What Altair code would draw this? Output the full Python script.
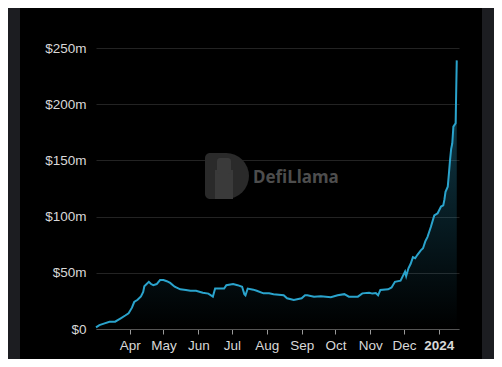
import altair as alt
import pandas as pd

# TVL series (USD millions)
dates = [
    "2023-03-02", "2023-03-05", "2023-03-09", "2023-03-14", "2023-03-19", "2023-03-24",
    "2023-03-28", "2023-03-31", "2023-04-03", "2023-04-05", "2023-04-08", "2023-04-11",
    "2023-04-13", "2023-04-14", "2023-04-18", "2023-04-20", "2023-04-22", "2023-04-25",
    "2023-04-28", "2023-05-01", "2023-05-04", "2023-05-07", "2023-05-11", "2023-05-16",
    "2023-05-21", "2023-05-25", "2023-05-30", "2023-06-05", "2023-06-10", "2023-06-14",
    "2023-06-16", "2023-06-24", "2023-06-26", "2023-07-02", "2023-07-06", "2023-07-10",
    "2023-07-12", "2023-07-13", "2023-07-15", "2023-07-20", "2023-07-23", "2023-07-29",
    "2023-08-03", "2023-08-07", "2023-08-16", "2023-08-19", "2023-08-25", "2023-09-01",
    "2023-09-04", "2023-09-06", "2023-09-12", "2023-09-18", "2023-09-27", "2023-10-03",
    "2023-10-09", "2023-10-13", "2023-10-21", "2023-10-25", "2023-10-31", "2023-11-03",
    "2023-11-06", "2023-11-08", "2023-11-10", "2023-11-17", "2023-11-20", "2023-11-23",
    "2023-11-28", "2023-11-30", "2023-12-02", "2023-12-03", "2023-12-05", "2023-12-07",
    "2023-12-09", "2023-12-11", "2023-12-13", "2023-12-16", "2023-12-18", "2023-12-20",
    "2023-12-22", "2023-12-25", "2023-12-28", "2023-12-31", "2024-01-03", "2024-01-05",
    "2024-01-06", "2024-01-07", "2024-01-09", "2024-01-10", "2024-01-11", "2024-01-12",
    "2024-01-13", "2024-01-14", "2024-01-16", "2024-01-17",
]
tvl = [
    1.5, 3.5, 4.8, 6.5, 6.5, 9.5,
    12, 14, 19, 24, 26, 29,
    33, 38, 42, 40, 39, 40,
    43.6, 43.6, 42.5, 41, 37.6, 35.3,
    34.7, 34, 34, 32.3, 31.5, 28.8,
    36, 36, 39, 40, 39, 37.6,
    31, 30, 36, 35, 34, 31.7,
    31.7, 31, 30, 27.3, 25.8, 27.3,
    30, 30, 28.8, 29.2, 28.2, 30,
    31, 28.8, 28.8, 31.7, 32.3, 31.5,
    32, 30, 34.7, 35.3, 37, 42,
    43, 47, 51, 47, 54, 58,
    64, 63, 66, 70, 71.8, 78,
    82, 91, 101, 103, 109, 110,
    115, 122, 126.6, 138, 150, 160,
    165, 180, 183, 239,
]
y_ticks = [0, 50, 100, 150, 200, 250]
month_ticks = [(2023, m) for m in range(4, 13)] + [(2024, 1)]

df = pd.DataFrame({"date": [d + "T00:00:00" for d in dates], "tvl": tvl})
one = pd.DataFrame({"k": [0]})

LINE = "#2aa3cc"
FONT = "Liberation Sans"

x_enc = alt.X(
    "date:T",
    title=None,
    scale=alt.Scale(domain=[alt.DateTime(year=2023, month=3, date=2),
                            alt.DateTime(year=2024, month=1, date=19)]),
    axis=alt.Axis(
        values=[alt.DateTime(year=y, month=m, date=1) for y, m in month_ticks],
        labelExpr="month(datum.value) == 0 ? timeFormat(datum.value, '%Y') : timeFormat(datum.value, '%b')",
        labelFontWeight={"condition": {"test": "month(datum.value) == 0", "value": "bold"}, "value": "normal"},
        labelColor="#d8d8d8",
        labelFont=FONT,
        labelFontSize=13.5,
        labelPadding=4,
        tickSize=5,
        tickColor="#9a9a9a",
        domainColor="#555555",
        grid=False,
        labelOverlap=False,
    ),
)
y_enc = alt.Y(
    "tvl:Q",
    title=None,
    scale=alt.Scale(domain=[0, 250], nice=False),
    axis=alt.Axis(
        values=y_ticks,
        labelExpr="datum.value == 0 ? '$0' : '$' + datum.value + 'm'",
        labelColor="#d8d8d8",
        labelFont=FONT,
        labelFontSize=13.5,
        labelPadding=10,
        ticks=False,
        domain=False,
        grid=True,
        gridColor="#232323",
        gridWidth=1,
    ),
)

gradient = alt.Gradient(
    gradient="linear",
    stops=[alt.GradientStop(color="rgba(42,163,204,0)", offset=0),
           alt.GradientStop(color="rgba(42,163,204,0.42)", offset=1)],
    x1=1, x2=1, y1=1, y2=0,
)

area = alt.Chart(df).mark_area(color=gradient, interpolate="linear").encode(x=x_enc, y=y_enc)
line = alt.Chart(df).mark_line(color=LINE, strokeWidth=2, interpolate="linear").encode(x="date:T", y="tvl:Q")

# side strips outside the black panel
left_strip = alt.Chart(one).mark_rect(color="#1c1d21").encode(
    x=alt.value(-88), x2=alt.value(-76), y=alt.value(-40), y2=alt.value(311))
right_strip = alt.Chart(one).mark_rect(color="#1c1d21").encode(
    x=alt.value(386), x2=alt.value(398), y=alt.value(-40), y2=alt.value(311))

# watermark
logo_rect = alt.Chart(one).mark_rect(color="#2a2a2a", cornerRadiusTopLeft=5, cornerRadiusBottomLeft=5).encode(
    x=alt.value(109), x2=alt.value(131), y=alt.value(105), y2=alt.value(151))
logo_arc = alt.Chart(one).mark_arc(color="#2a2a2a", radius=23, theta=0, theta2=3.14159).encode(
    x=alt.value(130), y=alt.value(128))
llama = alt.Chart(one).mark_rect(color="#3a3a3a").encode(
    x=alt.value(119), x2=alt.value(137), y=alt.value(122), y2=alt.value(151))
llama_head = alt.Chart(one).mark_rect(color="#3a3a3a", cornerRadius=3).encode(
    x=alt.value(121), x2=alt.value(135), y=alt.value(110), y2=alt.value(126))
wm_text = alt.Chart(one).mark_text(
    text="DefiLlama", color="#4d4d4d", font="Noto Sans", fontWeight="bold", fontSize=17,
    align="left", baseline="middle").encode(x=alt.value(157), y=alt.value(130))

chart = alt.layer(
    left_strip, right_strip, logo_rect, logo_arc, llama, llama_head, wm_text, area, line
).properties(
    width=363,
    height=281,
    background="#000000",
    padding={"left": 88, "top": 40, "right": 35, "bottom": 30},
    autosize=alt.AutoSizeParams(type="none"),
).configure_view(stroke=None)

chart.save("out.html", embed_options={"renderer": "svg", "actions": False})
